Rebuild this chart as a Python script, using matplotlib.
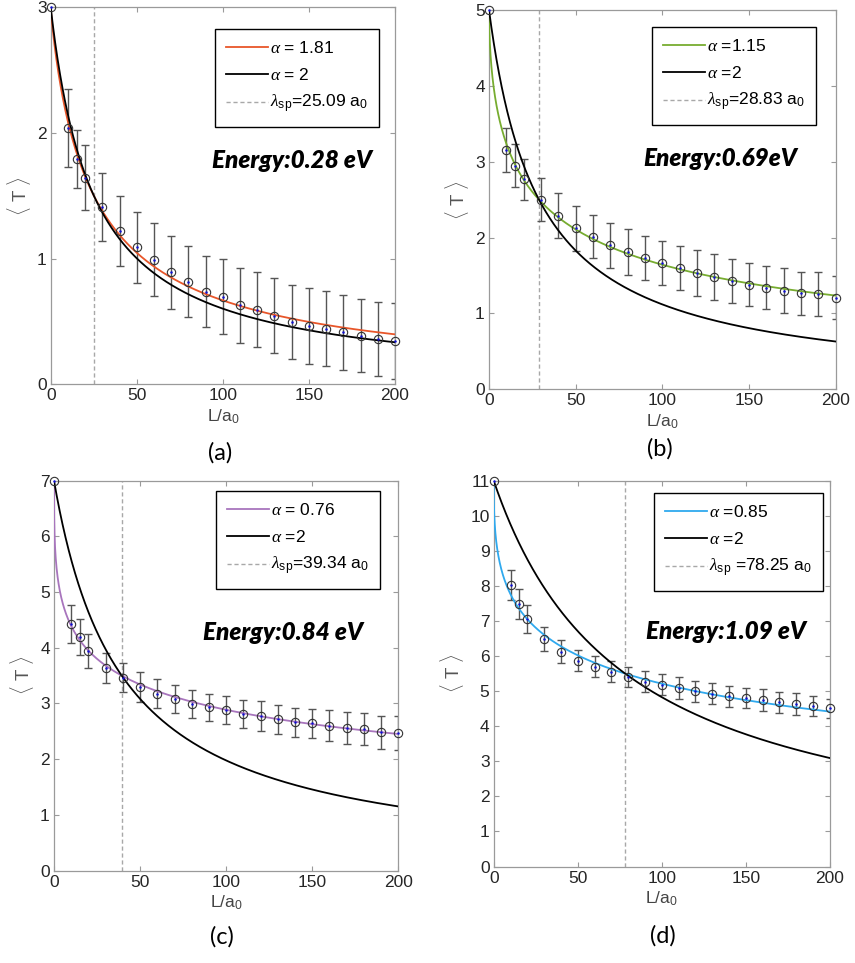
import numpy as np
import matplotlib
matplotlib.use("Agg")
import matplotlib.pyplot as plt

plt.rcParams["font.family"] = ["Liberation Sans", "DejaVu Sans"]
plt.rcParams["mathtext.fontset"] = "custom"
plt.rcParams["mathtext.rm"] = "Liberation Sans"
plt.rcParams["mathtext.it"] = "Liberation Serif:italic"
plt.rcParams["mathtext.bf"] = "Liberation Sans:bold"

# ---- data -------------------------------------------------------------
L = [0, 10, 15, 20, 30, 40, 50, 60, 70, 80, 90, 100,
     110, 120, 130, 140, 150, 160, 170, 180, 190, 200]

T_a = [3.0, 2.04, 1.79, 1.645, 1.41, 1.22, 1.09, 0.99, 0.89, 0.817, 0.737,
       0.698, 0.629, 0.594, 0.546, 0.493, 0.464, 0.443, 0.414, 0.387, 0.363, 0.345]
err_a = [0, 0.31, 0.23, 0.26, 0.27, 0.28, 0.28, 0.29, 0.29, 0.285, 0.28,
         0.30, 0.30, 0.30, 0.30, 0.295, 0.30, 0.30, 0.30, 0.29, 0.295, 0.30]

T_b = [5.0, 3.15, 2.95, 2.77, 2.50, 2.29, 2.12, 2.01, 1.90, 1.81, 1.73,
       1.665, 1.60, 1.53, 1.48, 1.43, 1.38, 1.34, 1.30, 1.265, 1.25, 1.21]
err_b = [0, 0.29, 0.28, 0.27, 0.285, 0.295, 0.30, 0.285, 0.295, 0.30, 0.29,
         0.285, 0.29, 0.30, 0.30, 0.29, 0.285, 0.285, 0.295, 0.285, 0.29, 0.28]

T_c = [7.0, 4.43, 4.19, 3.95, 3.64, 3.46, 3.30, 3.17, 3.08, 2.99, 2.93,
       2.88, 2.81, 2.77, 2.72, 2.66, 2.64, 2.60, 2.56, 2.54, 2.48, 2.47]
err_c = [0, 0.345, 0.32, 0.305, 0.27, 0.26, 0.27, 0.26, 0.26, 0.245, 0.24,
         0.25, 0.255, 0.265, 0.26, 0.265, 0.26, 0.275, 0.28, 0.29, 0.29, 0.30]

T_d = [11.0, 8.02, 7.49, 7.06, 6.48, 6.13, 5.87, 5.70, 5.55, 5.41, 5.27,
       5.18, 5.09, 5.00, 4.93, 4.86, 4.80, 4.74, 4.68, 4.63, 4.58, 4.51]
err_d = [0, 0.435, 0.42, 0.41, 0.34, 0.32, 0.31, 0.30, 0.30, 0.29, 0.30,
         0.295, 0.305, 0.30, 0.30, 0.30, 0.29, 0.31, 0.295, 0.305, 0.29, 0.28]

T0 = [3, 5, 7, 11]
alpha_fit = [1.81, 1.15, 0.76, 0.85]
alpha_ref = 2
lambda_sp = [25.09, 28.83, 39.34, 78.25]

fit_labels = [r"$\alpha$ = 1.81", r"$\alpha$ =1.15", r"$\alpha$ = 0.76", r"$\alpha$ =0.85"]
ref_labels = [r"$\alpha$ = 2", r"$\alpha$ =2", r"$\alpha$ =2", r"$\alpha$ =2"]
lam_labels = [r"$\lambda_{\rm sp}$=25.09 a$_0$", r"$\lambda_{\rm sp}$=28.83 a$_0$",
              r"$\lambda_{\rm sp}$=39.34 a$_0$", r"$\lambda_{\rm sp}$ =78.25 a$_0$"]
energy_labels = ["Energy:0.28 eV", "Energy:0.69eV", "Energy:0.84 eV", "Energy:1.09 eV"]
panel_labels = ["(a)", "(b)", "(c)", "(d)"]
y_max = [3, 5, 7, 11]

T_all = [T_a, T_b, T_c, T_d]
err_all = [err_a, err_b, err_c, err_d]
fit_colors = ["#E8562A", "#77AC30", "#A875BD", "#2FA9EE"]

# ---- layout (pixel boxes: left, top, right, bottom) ---------------------
W, H = 855, 963
axes_px = [(50.7, 7.3, 395, 384.3), (489, 10, 835.7, 389.3),
           (54, 480.7, 398.3, 870.5), (493.7, 480.7, 829.7, 866.5)]
legend_px = [(215, 29), (652, 27), (216, 491), (654, 493)]
energy_px = [(292, 160), (720, 159), (283, 633), (726, 631)]
panel_px = [(220, 453), (660, 449), (222, 937), (663, 936)]

fig = plt.figure(figsize=(W / 100, H / 100), dpi=100)

frame_col = "#9a9a9a"
tick_col = "#262626"

def model(x, t0, a, lam):
    return t0 / (1.0 + (x / lam) ** (a / 2.0))

for i in range(4):
    l, t, r, b = axes_px[i]
    ax = fig.add_axes([l / W, 1 - b / H, (r - l) / W, (b - t) / H])
    x = np.asarray(L, dtype=float)
    y = np.asarray(T_all[i])
    e = np.asarray(err_all[i])

    xs = np.linspace(0, 200, 2001)
    h_fit, = ax.plot(xs, model(xs, T0[i], alpha_fit[i], lambda_sp[i]),
                     color=fit_colors[i], lw=1.3, label=fit_labels[i], zorder=3)
    h_ref, = ax.plot(xs, model(xs, T0[i], alpha_ref, lambda_sp[i]),
                     color="black", lw=1.3, label=ref_labels[i], zorder=3)
    h_lam = ax.axvline(lambda_sp[i], color="#a8a8a8", lw=1.0, ls=(0, (3, 2)),
                       label=lam_labels[i], zorder=1)

    m = e > 0
    ax.errorbar(x[m], y[m], yerr=e[m], fmt="none", ecolor="#555555",
                elinewidth=1.0, capsize=2.9, capthick=1.0, zorder=2)
    ax.plot(x, y, "o", mfc="none", mec="#333333", ms=6, mew=0.8,
            clip_on=False, zorder=4)
    ax.plot(x, y, "o", color="#1010d0", ms=1.8, mew=0, clip_on=False, zorder=5)

    ax.set_xlim(0, 200)
    ax.set_ylim(0, y_max[i])
    ax.set_xticks([0, 50, 100, 150, 200])
    ax.set_yticks(range(0, y_max[i] + 1))
    ax.tick_params(direction="in", length=3.5, width=0.8, color=frame_col,
                   labelcolor=tick_col, labelsize=12.5, top=True, right=True,
                   pad=3)
    for s in ax.spines.values():
        s.set_color(frame_col)
        s.set_linewidth(0.9)

    ax.set_xlabel("L/a$_0$", fontsize=12.5, color="#444444", labelpad=3)
    ax.set_ylabel(r"$\langle$ T $\rangle$", fontsize=13.5, color="#555555",
                  labelpad=3)

    lx, ly = legend_px[i]
    leg = ax.legend(handles=[h_fit, h_ref, h_lam], loc="upper left",
                    bbox_to_anchor=(lx / W, 1 - ly / H),
                    bbox_transform=fig.transFigure, fontsize=12.5,
                    frameon=True, fancybox=False, edgecolor="black",
                    framealpha=1, handlelength=2.4, handletextpad=0.1,
                    labelspacing=0.6, borderpad=0.65, borderaxespad=0)
    leg.get_frame().set_linewidth(1.0)

    ex, ey = energy_px[i]
    fig.text(ex / W, 1 - ey / H, energy_labels[i], fontsize=17.5,
             fontweight="heavy", fontstyle="italic", family="Lato",
             ha="center", va="center", color="black")

    px, py = panel_px[i]
    fig.text(px / W, 1 - py / H, panel_labels[i], fontsize=17, family="Lato",
             ha="center", va="center", color="black")

fig.savefig("out.png", dpi=100)
